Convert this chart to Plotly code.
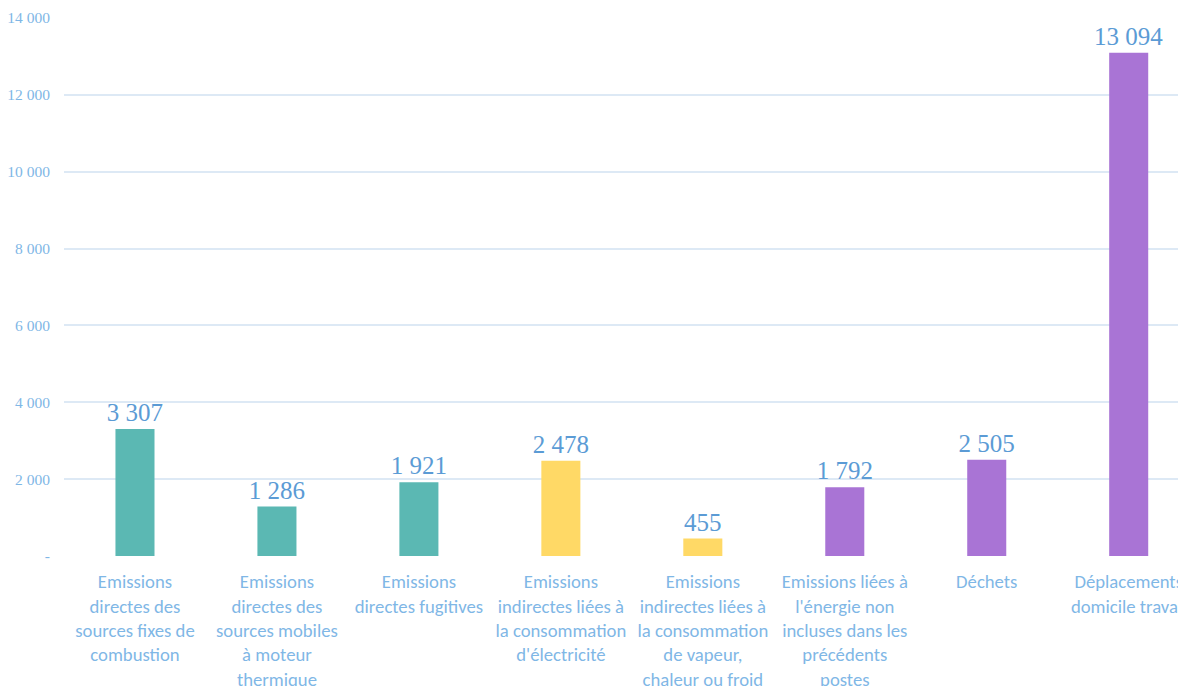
import plotly.graph_objects as go

# catégories et valeurs (tCO2e)
categories = [
    "Emissions<br>directes des<br>sources fixes de<br>combustion",
    "Emissions<br>directes des<br>sources mobiles<br>à moteur<br>thermique",
    "Emissions<br>directes fugitives",
    "Emissions<br>indirectes liées à<br>la consommation<br>d'électricité",
    "Emissions<br>indirectes liées à<br>la consommation<br>de vapeur,<br>chaleur ou froid",
    "Emissions liées à<br>l'énergie non<br>incluses dans les<br>précédents<br>postes",
    "Déchets",
    "Déplacements<br>domicile travail",
]
values = [3307, 1286, 1921, 2478, 455, 1792, 2505, 13094]
colors = ["#5bb8b3", "#5bb8b3", "#5bb8b3", "#ffd966", "#ffd966",
          "#a974d5", "#a974d5", "#a974d5"]

y_ticks = [0, 2000, 4000, 6000, 8000, 10000, 12000, 14000]
y_ticktext = ["-", "2 000", "4 000", "6 000", "8 000", "10 000", "12 000", "14 000"]

labels = [f"{v:,}".replace(",", " ") for v in values]

fig = go.Figure()
fig.add_trace(go.Bar(
    x=list(range(len(categories))),
    y=values,
    marker=dict(color=colors, line=dict(width=0)),
    width=0.275,
    text=labels,
    textposition="outside",
    constraintext="none",
    cliponaxis=False,
    textfont=dict(family="Liberation Serif", size=25, color="#5b9bd5"),
))

# la page ajoute 8 px de marge au body : on compense
fig.update_layout(
    width=1186, height=686,
    margin=dict(l=56, r=0, t=10, b=138),
    plot_bgcolor="white", paper_bgcolor="white",
    showlegend=False,
    xaxis=dict(
        tickvals=list(range(len(categories))),
        ticktext=categories,
        range=[-0.5, 7.46],
        showgrid=False, zeroline=False,
        tickangle=0, automargin=False,
        ticklabeloverflow="allow",
        ticks="outside", ticklen=9, tickcolor="rgba(0,0,0,0)",
        tickfont=dict(family="Carlito, Lato, sans-serif", size=18.7, color="#7fb7e6"),
    ),
    yaxis=dict(
        range=[0, 14000],
        tickvals=y_ticks,
        ticktext=y_ticktext,
        showgrid=True, gridcolor="#dde9f5", gridwidth=1.5,
        zeroline=False, automargin=False,
        ticks="outside", ticklen=10, tickcolor="rgba(0,0,0,0)",
        tickfont=dict(family="Liberation Serif", size=15.5, color="#7fb7e6"),
    ),
)

fig.write_html("out.html")
